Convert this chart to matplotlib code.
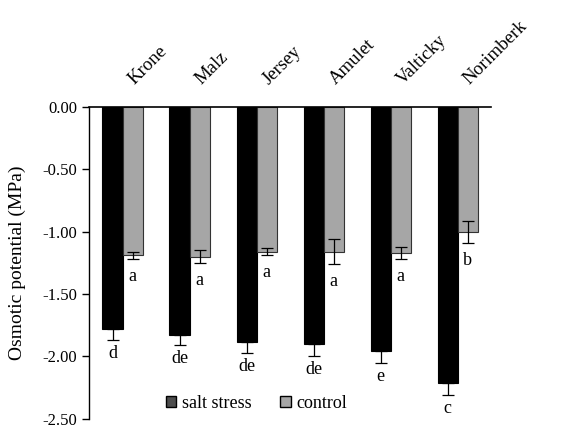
import numpy as np
import matplotlib.pyplot as plt
from matplotlib.patches import Patch

plt.rcParams['font.family'] = ['Liberation Serif', 'DejaVu Serif']

# Data
cultivars = ["Krone", "Malz", "Jersey", "Amulet", "Valticky", "Norimberk"]
salt = [-1.78, -1.83, -1.88, -1.90, -1.96, -2.21]
salt_err = [0.09, 0.08, 0.09, 0.10, 0.09, 0.10]
control = [-1.19, -1.20, -1.16, -1.16, -1.17, -1.00]
control_err = [0.03, 0.05, 0.03, 0.10, 0.05, 0.09]
salt_letters = ["d", "de", "de", "de", "e", "c"]
control_letters = ["a", "a", "a", "a", "a", "b"]

SALT_COLOUR = "black"
CONTROL_COLOUR = "#a6a6a6"

fig = plt.figure(figsize=(5.82, 4.30), dpi=100)
ax = fig.add_axes([0.153, 0.026, 0.691, 0.725])

x = np.arange(len(cultivars))
w = 0.3

ax.bar(x - w / 2, salt, w, color=SALT_COLOUR, edgecolor=SALT_COLOUR, linewidth=0.8)
ax.bar(x + w / 2, control, w, color=CONTROL_COLOUR, edgecolor="#333333", linewidth=0.8)
ax.errorbar(x - w / 2, salt, yerr=[salt_err, [0] * len(salt)], fmt="none",
            ecolor="black", elinewidth=0.9, capsize=4, capthick=0.9)
ax.errorbar(x + w / 2, control, yerr=control_err, fmt="none",
            ecolor="black", elinewidth=0.9, capsize=4, capthick=0.9)

# Significance letters under the error bars
for i in range(len(cultivars)):
    ax.text(x[i] - w / 2, salt[i] - salt_err[i] - 0.04, salt_letters[i],
            ha="center", va="top", fontsize=13)
    ax.text(x[i] + w / 2, control[i] - control_err[i] - 0.07, control_letters[i],
            ha="center", va="top", fontsize=13)

ax.set_xlim(-0.5, 5.5)
ax.set_ylim(-2.5, 0)
ax.set_yticks(np.arange(-2.5, 0.01, 0.5))
ax.set_yticklabels(["%.2f" % v for v in np.arange(-2.5, 0.01, 0.5)], fontsize=12)
ax.set_ylabel("Osmotic potential (MPa)", fontsize=14, labelpad=12)

# cultivar names sit rotated above the zero line
ax.xaxis.tick_top()
ax.set_xticks(x + 0.22)
ax.set_xticklabels(cultivars, rotation=45, ha="left", va="bottom", fontsize=13.5,
                   rotation_mode="anchor")
ax.tick_params(axis="x", length=0, pad=14)
ax.tick_params(axis="y", direction="out", length=5, width=1)

ax.spines["right"].set_visible(False)
ax.spines["bottom"].set_visible(False)
ax.spines["top"].set_linewidth(1.2)
ax.spines["left"].set_linewidth(1.0)

handles = [Patch(facecolor="#4d4d4d", edgecolor="black", label="salt stress"),
           Patch(facecolor=CONTROL_COLOUR, edgecolor="black", label="control")]
ax.legend(handles=handles, loc="lower left", bbox_to_anchor=(0.15, -0.03), ncol=2,
          frameon=False, fontsize=13, handlelength=0.6, handleheight=0.6,
          handletextpad=0.3, columnspacing=1.6)

fig.savefig("out.png", dpi=100)
